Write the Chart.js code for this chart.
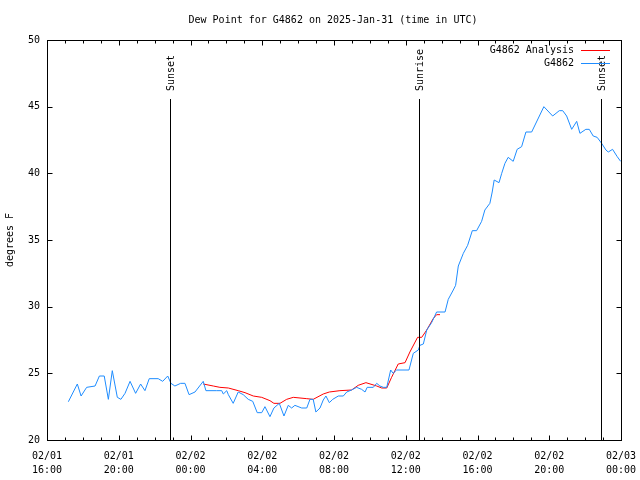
<!DOCTYPE html>
<html>
<head>
<meta charset="utf-8">
<script src="https://cdn.jsdelivr.net/npm/chart.js@4/dist/chart.umd.min.js"></script>
<style>
  html, body { margin: 0; padding: 0; background: #fff; }
</style>
</head>
<body>
<canvas id="dewChart" width="640" height="480"></canvas>
<script>
// hours since 02/01 16:00 UTC
const obsHours = [1.19, 1.69, 1.90, 2.21, 2.68, 2.92, 3.19, 3.42, 3.64, 3.92, 4.12, 4.35, 4.63, 4.94, 5.22, 5.46,
    5.70, 6.20, 6.45, 6.73, 6.91, 7.13, 7.45, 7.69, 7.92, 8.25, 8.71, 8.86, 9.46, 9.74, 9.83, 10.02, 10.11, 10.38,
    10.66, 10.94, 11.22, 11.47, 11.72, 11.97, 12.15, 12.43, 12.65, 12.95, 13.21, 13.45, 13.64, 13.82, 14.20, 14.48,
    14.66, 14.84, 14.99, 15.22, 15.40, 15.55, 15.74, 15.93, 16.24, 16.52, 16.71, 16.98, 17.26, 17.54, 17.73, 17.85,
    18.19, 18.38, 18.56, 18.75, 18.94, 19.16, 19.30, 19.49, 20.18, 20.42, 20.70, 20.79, 20.98, 21.17, 21.44, 21.72,
    22.19, 22.37, 22.65, 22.78, 22.93, 23.21, 23.45, 23.71, 23.95, 24.23, 24.41, 24.69, 24.82, 24.93, 25.20, 25.35,
    25.53, 25.71, 25.99, 26.21, 26.46, 26.70, 27.02, 27.70, 28.19, 28.56, 28.75, 28.97, 29.25, 29.53, 29.71, 30.04,
    30.23, 30.45, 30.67, 30.92, 31.16, 31.29, 31.53, 31.79, 31.98];
const obsDew = [22.87, 24.2, 23.3, 23.95, 24.05, 24.8, 24.8, 23.05, 25.2, 23.2, 23.05, 23.5, 24.4, 23.5, 24.2, 23.7,
    24.6, 24.6, 24.4, 24.8, 24.25, 24.05, 24.25, 24.25, 23.4, 23.6, 24.4, 23.7, 23.7, 23.7, 23.45, 23.7, 23.4, 22.75,
    23.6, 23.4, 23.05, 22.9, 22.05, 22.05, 22.5, 21.75, 22.4, 22.75, 21.8, 22.6, 22.4, 22.6, 22.4, 22.4,
    23.05, 23.05, 22.1, 22.4, 23.0, 23.3, 22.8, 23.05, 23.3, 23.3, 23.6, 23.75, 23.95, 23.8, 23.6, 23.95,
    23.95, 24.25, 24.05, 23.95, 23.95, 25.25, 25.0, 25.25, 25.25, 26.5, 26.75, 27.1, 27.2, 28.25, 28.8, 29.6,
    29.6, 30.55, 31.25, 31.6, 33.05, 34.0, 34.6, 35.7, 35.7, 36.4, 37.25, 37.75, 38.6, 39.5, 39.3, 40.0,
    40.75, 41.2, 40.9, 41.8, 42.0, 43.1, 43.1, 45.0, 44.3, 44.7, 44.7, 44.3, 43.3, 43.9, 43.0, 43.3,
    43.3, 42.8, 42.7, 42.25, 41.75, 41.6, 41.8, 41.25, 40.9];

const anaHours = [8.71, 9.27, 9.64, 10.11, 10.66, 11.04, 11.50, 11.97, 12.43, 12.65, 12.99, 13.36, 13.73, 14.48,
    14.84, 15.40, 15.74, 16.33, 16.98, 17.35, 17.78, 18.38, 18.66, 18.94, 19.21, 19.58, 19.96, 20.23, 20.66, 20.89,
    21.17, 21.53, 21.72, 21.91];
const anaDew = [24.2, 24.05, 23.95, 23.9, 23.7, 23.55, 23.3, 23.2, 22.95, 22.75, 22.75, 23.05, 23.2, 23.1,
    23.05, 23.45, 23.6, 23.7, 23.75, 24.1, 24.3, 24.05, 23.9, 23.9, 24.7, 25.7, 25.8, 26.6, 27.7, 27.7,
    28.25, 29.1, 29.4, 29.4];

const sunHours = [6.87, 20.74, 30.90];
const sunNames = ['Sunset', 'Sunrise', 'Sunset'];

const xTickLabels = [['02/01', '16:00'], ['02/01', '20:00'], ['02/02', '00:00'], ['02/02', '04:00'],
    ['02/02', '08:00'], ['02/02', '12:00'], ['02/02', '16:00'], ['02/02', '20:00'], ['02/03', '00:00']];

const FONT = '"DejaVu Sans Mono", monospace';
const RED = '#ff0000';
const BLUE = '#1e8cff';

const toPoints = (xs, ys) => xs.map((h, i) => ({ x: h, y: ys[i] }));

// border, inward ticks, sun markers, legend and titles
const decor = {
    id: 'decor',
    afterDraw(chart) {
        const ctx = chart.ctx;
        const a = chart.chartArea;
        const xs = chart.scales.x;
        const ys = chart.scales.y;
        const L = Math.round(a.left) + 0.5, R = Math.round(a.right) + 0.5;
        const T = Math.round(a.top) + 0.5, B = Math.round(a.bottom) + 0.5;
        ctx.save();
        ctx.strokeStyle = '#000';
        ctx.lineWidth = 1;
        ctx.strokeRect(L, T, R - L, B - T);

        ctx.beginPath();
        for (let h = 0; h <= 32; h++) {
            const px = Math.round(xs.getPixelForValue(h)) + 0.5;
            const len = h % 4 === 0 ? 5 : 3;
            ctx.moveTo(px, B); ctx.lineTo(px, B - len);
            ctx.moveTo(px, T); ctx.lineTo(px, T + len);
        }
        for (let v = 20; v <= 50; v += 5) {
            const py = Math.round(ys.getPixelForValue(v)) + 0.5;
            ctx.moveTo(L, py); ctx.lineTo(L + 5, py);
            ctx.moveTo(R, py); ctx.lineTo(R - 5, py);
        }
        ctx.stroke();

        // sunrise / sunset lines
        ctx.font = '10px ' + FONT;
        ctx.fillStyle = '#000';
        const lineTop = Math.round(ys.getPixelForValue(45.6));
        sunHours.forEach((h, i) => {
            const px = Math.round(xs.getPixelForValue(h)) + 0.5;
            ctx.beginPath();
            ctx.moveTo(px, lineTop);
            ctx.lineTo(px, B);
            ctx.stroke();
            ctx.save();
            ctx.translate(px + 1, lineTop - 8);
            ctx.rotate(-Math.PI / 2);
            ctx.textAlign = 'left';
            ctx.textBaseline = 'middle';
            ctx.fillText(sunNames[i], 0, 0);
            ctx.restore();
        });

        // legend
        ctx.textAlign = 'right';
        ctx.textBaseline = 'middle';
        const legend = [['G4862 Analysis', RED], ['G4862', BLUE]];
        legend.forEach(([name, col], i) => {
            const y = 50 + i * 13;
            ctx.fillStyle = '#000';
            ctx.fillText(name, 574, y);
            ctx.strokeStyle = col;
            ctx.beginPath();
            ctx.moveTo(581, y + 0.5);
            ctx.lineTo(610, y + 0.5);
            ctx.stroke();
        });

        // title
        ctx.fillStyle = '#000';
        ctx.textAlign = 'center';
        ctx.fillText('Dew Point for G4862 on 2025-Jan-31 (time in UTC)', 333, 20);

        // y axis title
        ctx.save();
        ctx.translate(10, 240);
        ctx.rotate(-Math.PI / 2);
        ctx.textAlign = 'center';
        ctx.fillText('degrees F', 0, 0);
        ctx.restore();
        ctx.restore();
    }
};

document.addEventListener('DOMContentLoaded', () => {
    const ctx = document.getElementById('dewChart');
    new Chart(ctx, {
        type: 'scatter',
        data: {
            datasets: [{
                label: 'G4862',
                data: toPoints(obsHours, obsDew),
                showLine: true,
                borderColor: BLUE,
                borderWidth: 1,
                pointRadius: 0,
                tension: 0,
                order: 0
            }, {
                label: 'G4862 Analysis',
                data: toPoints(anaHours, anaDew),
                showLine: true,
                borderColor: RED,
                borderWidth: 1,
                pointRadius: 0,
                tension: 0,
                order: 1
            }]
        },
        options: {
            responsive: false,
            animation: false,
            devicePixelRatio: 1,
            layout: { padding: { top: 40, right: 19, left: 0, bottom: 0 } },
            plugins: {
                legend: { display: false },
                title: { display: false },
                tooltip: { enabled: false }
            },
            scales: {
                x: {
                    type: 'linear',
                    min: 0,
                    max: 32,
                    grid: { display: false, drawTicks: false, tickLength: 0 },
                    border: { display: false },
                    afterFit: s => { s.height = 40; s.paddingLeft = 0; s.paddingRight = 0; },
                    ticks: {
                        stepSize: 4,
                        autoSkip: false,
                        maxRotation: 0,
                        padding: 9,
                        color: '#000',
                        font: { family: FONT, size: 10, lineHeight: 1.4 },
                        callback: v => xTickLabels[Math.round(v / 4)]
                    }
                },
                y: {
                    min: 20,
                    max: 50,
                    grid: { display: false, drawTicks: false, tickLength: 0 },
                    border: { display: false },
                    afterFit: s => { s.width = 47; s.paddingTop = 0; s.paddingBottom = 0; },
                    ticks: {
                        stepSize: 5,
                        padding: 7,
                        color: '#000',
                        font: { family: FONT, size: 10 },
                        callback: v => v
                    }
                }
            }
        },
        plugins: [decor]
    });
});
</script>
</body>
</html>
